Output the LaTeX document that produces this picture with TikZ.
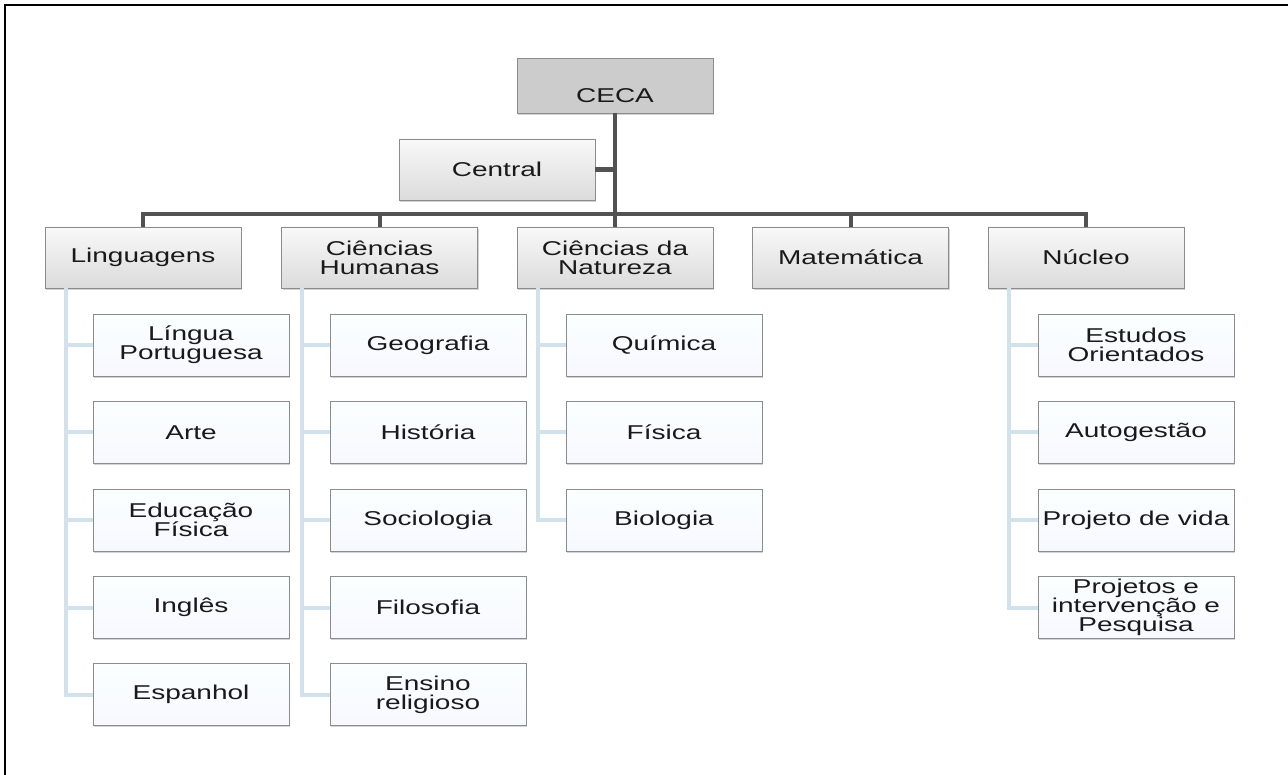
\documentclass[tikz,border=0pt]{standalone}
\usepackage{fontspec}
\setmainfont{Liberation Sans}[FakeStretch=1.4]
\usetikzlibrary{shadows}
\definecolor{txt}{HTML}{1A1A1A}
\definecolor{boxline}{HTML}{8C8C8C}
\definecolor{trunkc}{HTML}{525252}
\definecolor{branchc}{HTML}{D2E2EC}
\tikzset{
  x=1pt, y=-1pt,
  lbl/.style={text=txt, font=\fontsize{20}{19}\selectfont},
  base/.style={draw=boxline, line width=0.8pt, minimum width=196pt, inner sep=0pt,
    align=center, lbl,
    drop shadow={shadow xshift=1.2pt, shadow yshift=-1.8pt, opacity=0.35}},
  grp/.style={base, minimum height=61pt, top color=gray!5, bottom color=gray!28},
  topbox/.style={base, minimum height=55pt, fill=gray!40},
  sub/.style={base, minimum height=62pt, top color=cyan!2, bottom color=cyan!10!blue!3},
  trunk/.style={draw=trunkc, line width=4.5pt},
  bar/.style={draw=trunkc, line width=4pt},
  branch/.style={draw=branchc, line width=4pt},
}
\begin{document}
\begin{tikzpicture}
\useasboundingbox (0,0) rectangle (1288,775);
\draw[line width=2pt] (5,775) -- (5,5) -- (1288,5);
\coordinate (hub) at (615,214);
% top
\node[topbox, label={[anchor=base, label distance=-11pt, lbl]south:CECA}] (ceca) at (615,85.5) {};
\node[grp] (central) at (497,169.5) {Central};
% level 1
\node[grp] (lin) at (143,257.5) {Linguagens};
\node[grp] (hum) at (379.5,257.5) {Ciências\\Humanas};
\node[grp] (nat) at (615,257.5) {Ciências da\\Natureza};
\node[grp] (mat) at (850.5,257.5) {Matemática};
\node[grp] (nuc) at (1086,257.5) {Núcleo};
% children
\node[sub] (lp) at (191,345) {Língua\\Portuguesa};
\node[sub] (art) at (191,432.5) {Arte};
\node[sub] (edf) at (191,520) {Educação\\Física};
\node[sub] (ing) at (191,607.5) {Inglês};
\node[sub] (esp) at (191,694.5) {Espanhol};
\node[sub] (geo) at (428,345) {Geografia};
\node[sub] (his) at (428,432.5) {História};
\node[sub] (soc) at (428,520) {Sociologia};
\node[sub] (fil) at (428,607.5) {Filosofia};
\node[sub] (ens) at (428,694.5) {Ensino\\religioso};
\node[sub] (qui) at (664,345) {Química};
\node[sub] (fis) at (664,432.5) {Física};
\node[sub] (bio) at (664,520) {Biologia};
\node[sub] (est) at (1136,345) {Estudos\\Orientados};
\node[sub] (aut) at (1136,432.5) {Autogestão};
\node[sub] (pvi) at (1136,520) {Projeto de vida};
\node[sub] (pro) at (1136,607.5) {Projetos e\\intervenção e\\Pesquisa};
% connectors
\draw[trunk] (ceca.south) -- (hub);
\draw[trunk] (central.east) -- (central.east -| hub);
\draw[bar] (hub) -| (lin.north);
\draw[bar] (hub) -| (hum.north);
\draw[bar] (hub) -- (nat.north);
\draw[bar] (hub) -| (mat.north);
\draw[bar] (hub) -| (nuc.north);
\foreach \p/\c in {lin/lp,lin/art,lin/edf,lin/ing,lin/esp,
                   hum/geo,hum/his,hum/soc,hum/fil,hum/ens,
                   nat/qui,nat/fis,nat/bio,
                   nuc/est,nuc/aut,nuc/pvi,nuc/pro}
  \draw[branch] ([xshift=21pt]\p.south west) |- (\c.west);
\end{tikzpicture}
\end{document}
